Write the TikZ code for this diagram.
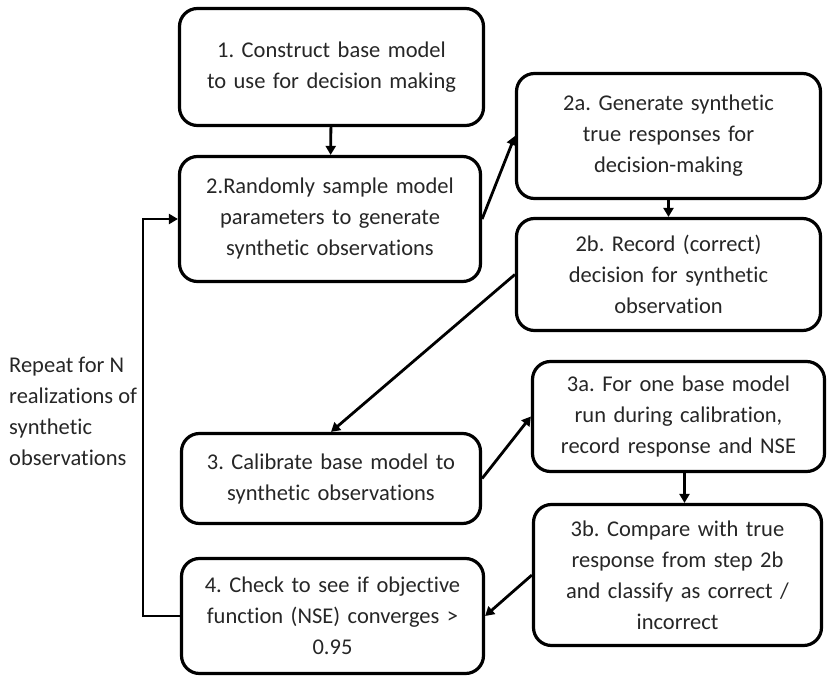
\documentclass[tikz,border=0pt]{standalone}
\usepackage{fontspec}
\setmainfont[Ligatures=NoCommon]{Carlito}
\usetikzlibrary{arrows.meta}
\frenchspacing
\begin{document}
\begin{tikzpicture}[x=1pt, y=1pt, font=\fontsize{22.5}{31}\selectfont, text=black!85]
\tikzstyle{every node}+=[inner sep=0pt]
\tikzstyle{stepbox}=[draw, line width=3.2pt, rounded corners=18pt, align=center, text width=285pt]
\tikzstyle{conn}=[line width=2.8pt, -{Triangle[length=9pt, width=10pt]}]
\useasboundingbox (0,0) rectangle (827,-679);
% main column
\node [stepbox, minimum width=304pt, minimum height=117pt] (s1) at (331.5,-67) {1. Construct base model\\to use for decision making};
\node [stepbox, minimum width=301pt, minimum height=125pt] (s2) at (330,-219) {2.Randomly sample model\\parameters to generate\\synthetic observations};
\node [stepbox, minimum width=299pt, minimum height=90pt] (s3) at (331,-478.5) {3. Calibrate base model to\\synthetic observations};
\node [stepbox, minimum width=302pt, minimum height=115pt] (s4) at (332.5,-616) {4. Check to see if objective\\function (NSE) converges >\\0.95};
% right column
\node [stepbox, minimum width=304pt, minimum height=125pt] (s2a) at (668.5,-136) {2a. Generate synthetic\\true responses for\\decision-making};
\node [stepbox, minimum width=304pt, minimum height=112pt] (s2b) at (668.5,-274.5) {2b. Record (correct)\\decision for synthetic\\observation};
\node [stepbox, minimum width=292pt, minimum height=110pt] (s3a) at (678.5,-416.5) {3a. For one base model\\run during calibration,\\record response and NSE};
\node [stepbox, minimum width=288pt, minimum height=141pt] (s3b) at (677.5,-575) {3b. Compare with true\\response from step 2b\\and classify as correct /\\incorrect};
% loop label
\node [anchor=west, align=left] (rep) at (9,-411) {Repeat for N\\realizations of\\synthetic\\observations};
\coordinate (lb) at (143,-616);
\coordinate (lt) at (143,-219);
\draw [conn] (s1) -- (s2);
\draw [conn] (s2.east) -- (s2a.west);
\draw [conn] (s2a) -- (s2b);
\draw [conn] (s2b.west) -- (s3.north);
\draw [conn] (s3.east) -- (s3a.west);
\draw [conn] ([xshift=6pt]s3a.south) -- ([xshift=7pt]s3b.north);
\draw [conn] (s3b.west) -- (s4.east);
\draw [conn] (s4.west) -- (lb) -- (lt) -- (s2.west);
\end{tikzpicture}
\end{document}
